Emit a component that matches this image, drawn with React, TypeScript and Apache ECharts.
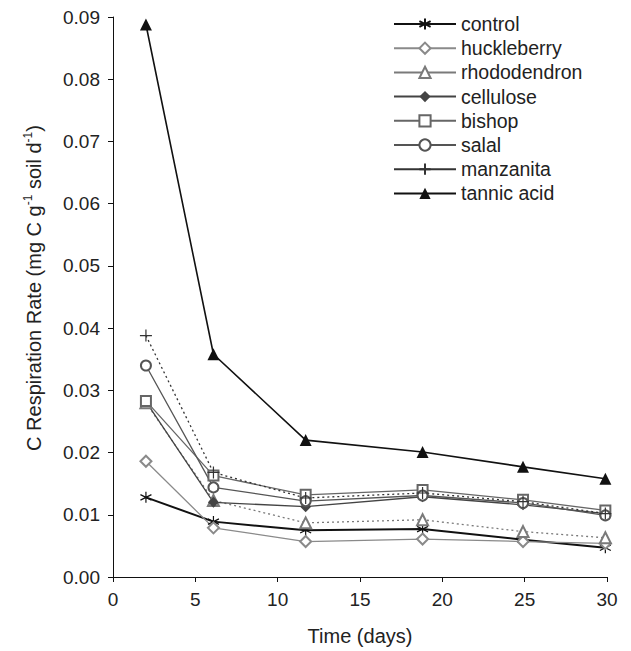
import React, { useEffect, useRef } from "react";
import * as echarts from "echarts";

const days = [2, 6.1, 11.7, 18.8, 24.9, 29.9];
const seriesNames = ["control", "huckleberry", "rhododendron", "cellulose", "bishop", "salal", "manzanita", "tannic acid"];
const control = [0.0128, 0.0089, 0.0075, 0.0077, 0.006, 0.0047];
const huckleberry = [0.0186, 0.0079, 0.0057, 0.0061, 0.0057, 0.0054];
const rhododendron = [0.028, 0.0123, 0.0087, 0.0092, 0.0073, 0.0063];
const cellulose = [0.0282, 0.012, 0.0113, 0.0129, 0.0116, 0.0102];
const bishop = [0.0283, 0.0163, 0.0132, 0.014, 0.0124, 0.0107];
const salal = [0.034, 0.0144, 0.0122, 0.0131, 0.0119, 0.0099];
const manzanita = [0.0388, 0.0168, 0.0127, 0.0135, 0.0121, 0.0102];
const tannicAcid = [0.0888, 0.0358, 0.022, 0.0201, 0.0177, 0.0158];

const FONT = "'Liberation Sans', Arial, Helvetica, sans-serif";

const asterisk = "path://M5,0L5,10M0.67,2.5L9.33,7.5M0.67,7.5L9.33,2.5";
const plus = "path://M5,0L5,10M0,5L10,5";

export default function App() {
  const ref = useRef<HTMLDivElement>(null);
  useEffect(() => {
    document.body.style.margin = "0";
    const chart = echarts.init(ref.current!, null, { renderer: "svg" });
    const pair = (arr: number[]) => days.map((d, i) => [d, arr[i]]);
    const mk = (
      name: string,
      arr: number[],
      color: string,
      symbol: string,
      symbolSize: number,
      width: number,
      dotted: boolean,
      stroke: boolean
    ) => ({
      name,
      type: "line",
      data: pair(arr),
      symbol,
      symbolSize,
      lineStyle: { color, width, type: dotted ? [2, 3] : "solid" },
      itemStyle: stroke
        ? { color, borderColor: color, borderWidth: 1.2 }
        : { color, borderWidth: 1 },
    });
    chart.setOption({
      animation: false,
      backgroundColor: "#fff",
      textStyle: { fontFamily: FONT },
      grid: { left: 113, right: 24, top: 17, bottom: 70 },
      legend: {
        orient: "vertical",
        left: 388,
        top: 9,
        itemWidth: 62,
        itemHeight: 14,
        itemGap: 4.2,
        data: seriesNames,
        textStyle: { fontSize: 19.5, color: "#222", fontFamily: FONT, lineHeight: 20 },
        lineStyle: { type: "solid" },
      },
      xAxis: {
        type: "value",
        min: 0,
        max: 30,
        interval: 5,
        splitLine: { show: false },
        axisLine: { lineStyle: { color: "#111", width: 1 } },
        axisTick: { lineStyle: { color: "#111" }, length: 5 },
        axisLabel: { fontSize: 19, color: "#222", margin: 13, fontFamily: FONT },
        name: "Time (days)",
        nameLocation: "middle",
        nameGap: 49,
        nameTextStyle: { fontSize: 20, color: "#222", fontFamily: FONT },
      },
      yAxis: {
        type: "value",
        min: 0,
        max: 0.09,
        interval: 0.01,
        splitLine: { show: false },
        axisLine: { show: true, lineStyle: { color: "#111", width: 1 } },
        axisTick: { show: true, lineStyle: { color: "#111" }, length: 5 },
        axisLabel: {
          fontSize: 19,
          color: "#222",
          margin: 13,
          fontFamily: FONT,
          formatter: (v: number) => v.toFixed(2),
        },
        name: "{a|C Respiration Rate (mg C g}{s|-1}{a| soil d}{s|-1}{a|)}",
        nameLocation: "middle",
        nameGap: 67,
        nameTextStyle: {
          padding: [0, 0, 0, 18],
          rich: {
            a: { fontSize: 20, color: "#222", fontFamily: FONT, lineHeight: 24 },
            s: { fontSize: 12, color: "#222", fontFamily: FONT, lineHeight: 24, verticalAlign: "top", padding: [0, 0, 7, 0] },
          },
        },
      },
      series: [
        mk("control", control, "#111", asterisk, 11, 2, false, true),
        mk("huckleberry", huckleberry, "#8a8a8a", "emptyDiamond", 11, 1.3, false, false),
        mk("rhododendron", rhododendron, "#7a7a7a", "emptyTriangle", 11, 1.3, true, false),
        mk("cellulose", cellulose, "#444", "diamond", 11, 1.3, false, false),
        mk("bishop", bishop, "#666", "emptyRect", 10, 1.3, false, false),
        mk("salal", salal, "#555", "emptyCircle", 10, 1.3, false, false),
        mk("manzanita", manzanita, "#333", plus, 12, 1.3, true, true),
        mk("tannic acid", tannicAcid, "#111", "triangle", 12, 1.6, false, false),
      ],
    });
    return () => chart.dispose();
  }, []);
  return <div ref={ref} style={{ width: 631, height: 651 }} />;
}
